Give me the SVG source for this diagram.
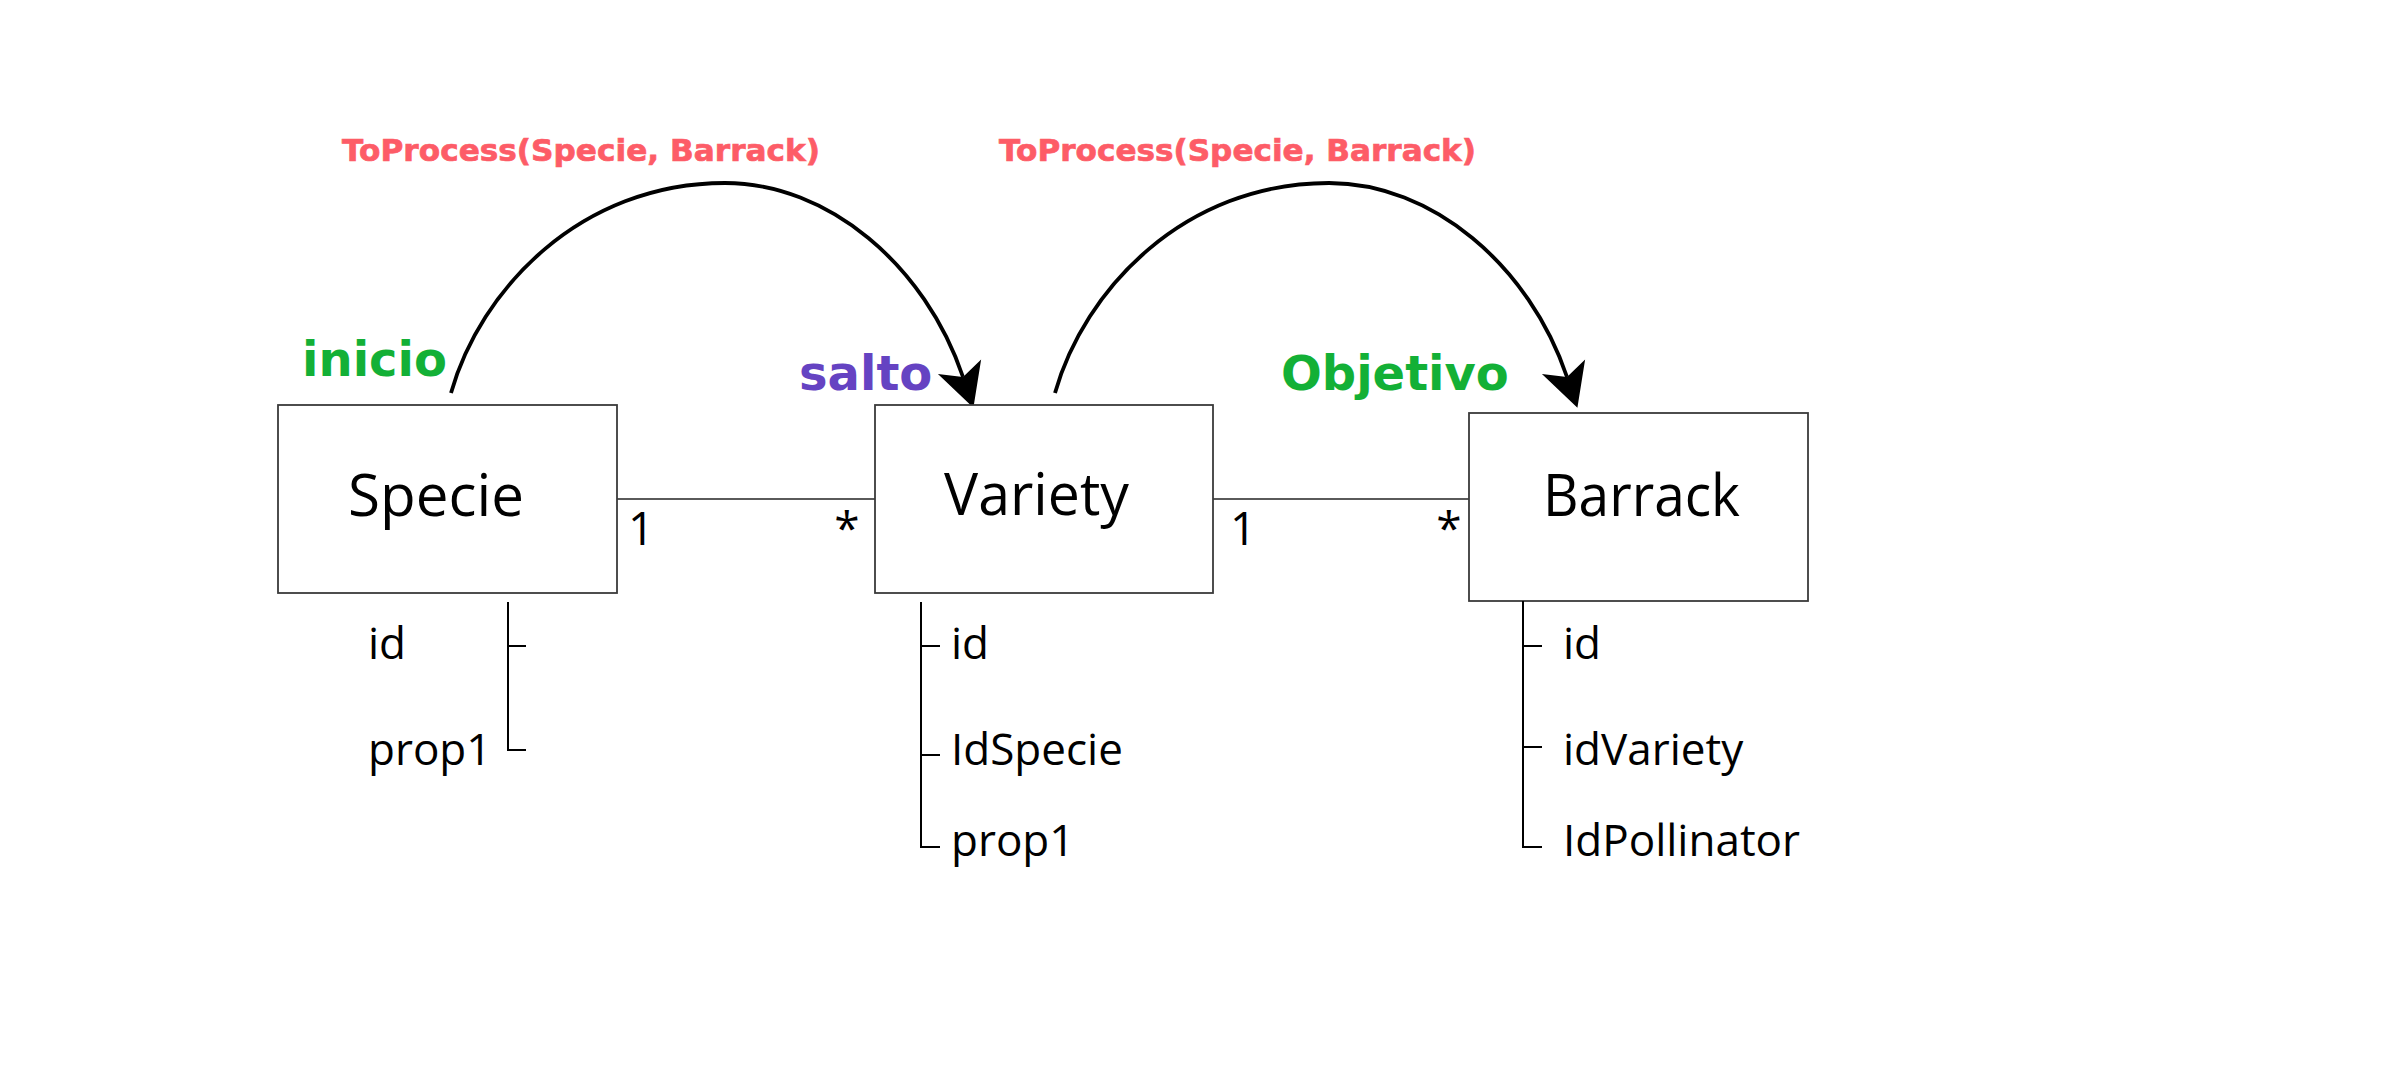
<svg xmlns="http://www.w3.org/2000/svg" width="2396" height="1080" viewBox="0 0 2396 1080">
<style>
.box{fill:#fff;stroke:#3a3a3a;stroke-width:1.8}
.title{font-family:"Open Sans","Noto Sans",sans-serif;font-size:59px;fill:#000}
.attr{font-family:"Open Sans","Noto Sans",sans-serif;font-size:44px;fill:#000}
.mult{font-family:"Open Sans","Noto Sans",sans-serif;font-size:46px;fill:#000}
.tree{fill:none;stroke:#000;stroke-width:2}
.assoc{fill:none;stroke:#5a5a5a;stroke-width:1.8}
.arc{fill:none;stroke:#000;stroke-width:3.8;marker-end:url(#arrow)}
.lbl{font-family:"DejaVu Sans",sans-serif;font-weight:bold;font-size:31px;fill:#fd5c67;stroke:#fd5c67;stroke-width:0.7}
.tag{font-family:"DejaVu Sans",sans-serif;font-weight:bold;font-size:48px}
</style>
<defs>
<marker id="arrow" markerUnits="userSpaceOnUse" markerWidth="60" markerHeight="60" viewBox="-15 -25 50 50" refX="0" refY="0" orient="auto">
<path d="M27,0 L-9,-19 L0,0 L-9,19 Z" fill="#000"/>
</marker>
</defs>
<rect width="2396" height="1080" fill="#fff"/>
<g id="connectors">
<line class="assoc" x1="617" y1="499" x2="875" y2="499"/>
<line class="assoc" x1="1213" y1="499" x2="1469" y2="499"/>
<text class="mult" x="628" y="545">1</text>
<text class="mult" x="847" y="545" text-anchor="middle">*</text>
<text class="mult" x="1230" y="545">1</text>
<text class="mult" x="1449" y="545" text-anchor="middle">*</text>
<path class="arc" d="M451,393 C480,290 580,183 725,183 C828,183 925,265 963,377"/>
<path class="arc" d="M1055,393 C1084,290 1184,183 1329,183 C1432,183 1529,265 1567,377"/>
<text class="lbl" x="342" y="161" textLength="478" lengthAdjust="spacingAndGlyphs">ToProcess(Specie, Barrack)</text>
<text class="lbl" x="999" y="161" textLength="477" lengthAdjust="spacingAndGlyphs">ToProcess(Specie, Barrack)</text>
</g>
<g id="specie">
<rect class="box" x="278" y="405" width="339" height="188"/>
<text class="title" x="348" y="516" textLength="176" lengthAdjust="spacingAndGlyphs">Specie</text>
<text class="tag" x="302" y="376" fill="#13b036">inicio</text>
<path class="tree" d="M508,602 V750 H526 M508,646 H526"/>
<text class="attr" x="368" y="659">id</text>
<text class="attr" x="368" y="765">prop1</text>
</g>
<g id="variety">
<rect class="box" x="875" y="405" width="338" height="188"/>
<text class="title" x="944" y="515" textLength="185" lengthAdjust="spacingAndGlyphs">Variety</text>
<text class="tag" x="799" y="390" fill="#6543c2">salto</text>
<path class="tree" d="M921,602 V847 H940 M921,646 H940 M921,755 H940"/>
<text class="attr" x="951" y="659">id</text>
<text class="attr" x="951" y="765">IdSpecie</text>
<text class="attr" x="951" y="856">prop1</text>
</g>
<g id="barrack">
<rect class="box" x="1469" y="413" width="339" height="188"/>
<text class="title" x="1543" y="516" textLength="197" lengthAdjust="spacingAndGlyphs">Barrack</text>
<text class="tag" x="1281" y="390" fill="#13b036">Objetivo</text>
<path class="tree" d="M1523,601 V847 H1542 M1523,646 H1542 M1523,747 H1542"/>
<text class="attr" x="1563" y="659">id</text>
<text class="attr" x="1563" y="765">idVariety</text>
<text class="attr" x="1563" y="856">IdPollinator</text>
</g>
</svg>
